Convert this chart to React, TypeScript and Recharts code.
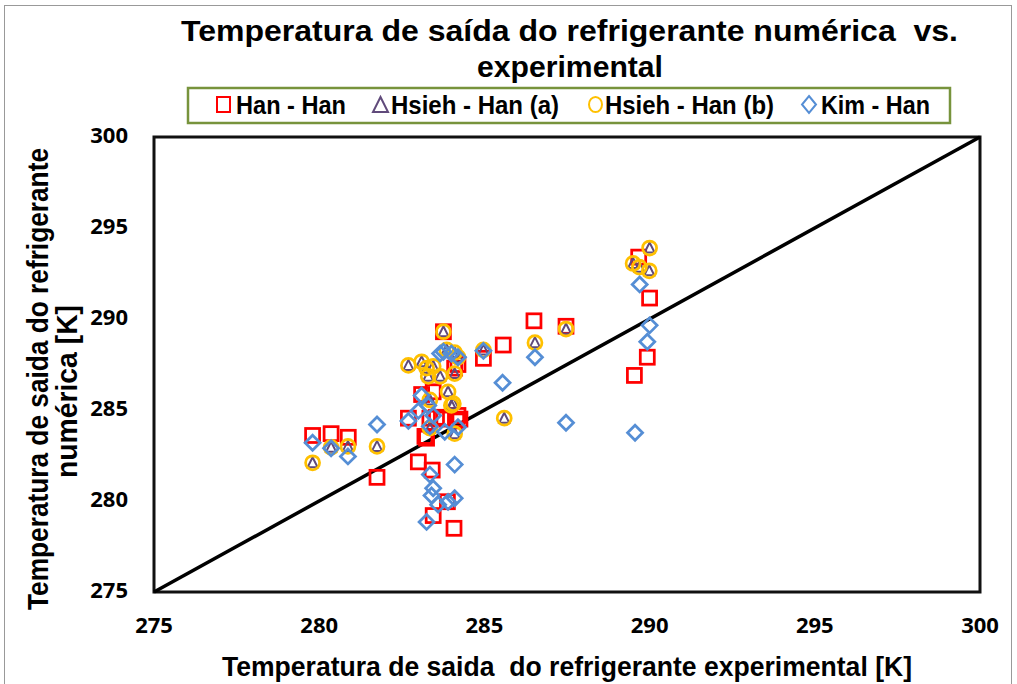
import React from "react";
import {
  ScatterChart,
  Scatter,
  XAxis,
  YAxis,
  ReferenceLine,
  ReferenceArea,
} from "recharts";

type Pt = { x: number; y: number };
const P = (x: number, y: number): Pt => ({ x, y });

const xTicks = [275, 280, 285, 290, 295, 300];
const yTicks = [275, 280, 285, 290, 295, 300];

const seriesNames = ["Han - Han", "Hsieh - Han (a)", "Hsieh - Han (b)", "Kim - Han"];

const hanHan: Pt[] = [
  P(279.8, 283.6), P(280.36, 283.7), P(280.88, 283.5), P(281.75, 281.3),
  P(282.7, 284.55), P(283.0, 282.15), P(283.2, 283.55), P(283.25, 283.45),
  P(283.1, 285.85), P(283.45, 286.0), P(283.42, 281.7), P(283.35, 284.55),
  P(283.55, 284.6), P(283.7, 284.5), P(283.45, 279.2), P(283.88, 279.96),
  P(284.08, 278.5), P(284.16, 284.4), P(284.2, 284.7), P(284.26, 284.5),
  P(283.76, 289.3), P(284.1, 287.3), P(284.2, 287.5), P(284.97, 287.84),
  P(285.57, 288.57), P(286.5, 289.9), P(287.47, 289.6), P(289.54, 286.9),
  P(289.67, 293.4), P(289.93, 287.9), P(290.0, 291.15),
];

const hsiehA: Pt[] = [
  P(279.8, 282.1), P(280.36, 282.95), P(280.87, 283.0), P(281.75, 283.0),
  P(282.7, 287.45), P(283.1, 287.65), P(283.25, 287.3), P(283.45, 287.4),
  P(283.3, 286.85), P(283.66, 286.85), P(284.1, 287.0), P(283.9, 286.0),
  P(284.06, 285.35), P(283.35, 285.55), P(283.76, 289.3), P(283.86, 288.3),
  P(284.1, 288.15), P(284.2, 287.9), P(284.97, 288.3), P(283.35, 284.0),
  P(284.1, 283.7), P(284.0, 285.25), P(285.6, 284.55), P(286.53, 288.7),
  P(287.47, 289.45), P(289.5, 293.05), P(289.69, 292.85), P(289.99, 292.65),
  P(290.0, 293.9),
];

const hsiehB: Pt[] = [
  P(279.8, 282.1), P(280.36, 282.95), P(280.87, 283.0), P(281.75, 283.0),
  P(282.7, 287.45), P(283.1, 287.65), P(283.25, 287.3), P(283.45, 287.4),
  P(283.3, 286.85), P(283.66, 286.85), P(284.1, 287.0), P(283.9, 286.0),
  P(284.06, 285.35), P(283.35, 285.55), P(283.76, 289.3), P(283.86, 288.3),
  P(284.1, 288.15), P(284.2, 287.9), P(284.97, 288.3), P(283.35, 284.0),
  P(284.1, 283.7), P(284.0, 285.25), P(285.6, 284.55), P(286.53, 288.7),
  P(287.47, 289.45), P(289.5, 293.05), P(289.69, 292.85), P(289.99, 292.65),
  P(290.0, 293.9),
];

const kimHan: Pt[] = [
  P(279.8, 283.2), P(280.36, 282.9), P(280.87, 282.45), P(281.75, 284.2),
  P(282.7, 284.4), P(283.0, 284.95), P(283.1, 285.8), P(283.3, 285.25),
  P(283.45, 284.7), P(283.35, 284.1), P(283.8, 283.8), P(284.2, 284.05),
  P(283.66, 288.1), P(283.76, 288.2), P(284.0, 288.1), P(284.2, 287.9),
  P(284.97, 288.25), P(284.1, 282.0), P(283.35, 281.45), P(283.45, 280.7),
  P(283.4, 280.3), P(283.6, 279.8), P(283.9, 279.95), P(284.1, 280.15),
  P(283.25, 278.85), P(285.55, 286.5), P(286.53, 287.9), P(287.47, 284.3),
  P(289.56, 283.75), P(289.7, 291.9), P(289.93, 288.75), P(290.0, 289.65),
];

const RED = "#FF0000";
const PURPLE = "#604A7B";
const GOLD = "#FFC000";
const BLUE = "#558ED5";
const ARIAL = "'Liberation Sans', Arial, sans-serif";
const TICKFONT = "'Open Sans', 'Noto Sans', sans-serif";

const SquareShape = (p: any) => (
  <rect x={p.cx - 7} y={p.cy - 7} width={14} height={14} fill="none" stroke={RED} strokeWidth={2.75} />
);
const TriangleShape = (p: any) => (
  <polygon
    points={`${p.cx},${p.cy - 5.5} ${p.cx + 5},${p.cy + 4.5} ${p.cx - 5},${p.cy + 4.5}`}
    fill="none"
    stroke={PURPLE}
    strokeWidth={2}
  />
);
const CircleShape = (p: any) => (
  <circle cx={p.cx} cy={p.cy} r={7} fill="none" stroke={GOLD} strokeWidth={2.75} />
);
const DiamondShape = (p: any) => (
  <polygon
    points={`${p.cx},${p.cy - 7.5} ${p.cx + 7.5},${p.cy} ${p.cx},${p.cy + 7.5} ${p.cx - 7.5},${p.cy}`}
    fill="none"
    stroke={BLUE}
    strokeWidth={2.75}
  />
);

const XTick = (p: any) => (
  <text
    x={p.x}
    y={p.y}
    dy={8}
    textAnchor="middle"
    dominantBaseline="middle"
    style={{ fontFamily: TICKFONT, fontWeight: 700, fontSize: 22, fill: "#000" }}
  >
    {p.payload.value}
  </text>
);
const YTick = (p: any) => (
  <text
    x={p.x}
    y={p.y}
    textAnchor="end"
    dominantBaseline="middle"
    style={{ fontFamily: TICKFONT, fontWeight: 700, fontSize: 22, fill: "#000" }}
  >
    {p.payload.value}
  </text>
);

export default function App() {
  return (
    <div style={{ position: "absolute", left: 0, top: 0, width: 1017, height: 684, background: "#fff", overflow: "hidden" }}>
      <div style={{ position: "absolute", left: 4, top: 5, width: 1006, height: 700, border: "1px solid #999" }} />
      <div style={{ position: "absolute", left: 0, top: 0 }}>
        <ScatterChart width={1017} height={684} margin={{ top: 137, right: 37, bottom: 52, left: 94 }}>
          <XAxis
            type="number"
            dataKey="x"
            domain={[275, 300]}
            ticks={xTicks}
            allowDataOverflow
            axisLine={false}
            tickLine={false}
            tickSize={0}
            tickMargin={27}
            height={40}
            tick={XTick}
          />
          <YAxis
            type="number"
            dataKey="y"
            domain={[275, 300]}
            ticks={yTicks}
            allowDataOverflow
            axisLine={false}
            tickLine={false}
            tickSize={0}
            tickMargin={26}
            width={60}
            tick={YTick}
          />
          <ReferenceArea x1={275} x2={300} y1={275} y2={300} fill="none" stroke="#111" strokeWidth={3} ifOverflow="visible" />
          <ReferenceLine segment={[{ x: 275, y: 275 }, { x: 300, y: 300 }]} stroke="#000" strokeWidth={3.5} />
          <Scatter name={seriesNames[0]} data={hanHan} shape={SquareShape} isAnimationActive={false} />
          <Scatter name={seriesNames[1]} data={hsiehA} shape={TriangleShape} isAnimationActive={false} />
          <Scatter name={seriesNames[2]} data={hsiehB} shape={CircleShape} isAnimationActive={false} />
          <Scatter name={seriesNames[3]} data={kimHan} shape={DiamondShape} isAnimationActive={false} />
        </ScatterChart>
      </div>
      <svg width={1017} height={684} style={{ position: "absolute", left: 0, top: 0, pointerEvents: "none" }}>
        <g fontFamily={ARIAL} fontWeight={700} fill="#000">
          <text x={181} y={41} fontSize={30} textLength={777} lengthAdjust="spacingAndGlyphs" style={{ whiteSpace: "pre" }}>
            {"Temperatura de saída do refrigerante numérica  vs."}
          </text>
          <text x={477} y={77} fontSize={30} textLength={186} lengthAdjust="spacingAndGlyphs">
            experimental
          </text>
          <text x={222} y={676} fontSize={28} textLength={690} lengthAdjust="spacingAndGlyphs" style={{ whiteSpace: "pre" }}>
            {"Temperatura de saida  do refrigerante experimental [K]"}
          </text>
          <text x={0} y={0} fontSize={29} textLength={462} lengthAdjust="spacingAndGlyphs" transform="translate(48,610) rotate(-90)">
            Temperatura de saida do refrigerante
          </text>
          <text x={0} y={0} fontSize={29} textLength={173} lengthAdjust="spacingAndGlyphs" transform="translate(77,478) rotate(-90)">
            numérica [K]
          </text>
        </g>
        <rect x={188} y={88} width={762} height={35} fill="#fff" stroke="#77933C" strokeWidth={2.5} />
        <rect x={217} y={97} width={13} height={15} fill="none" stroke={RED} strokeWidth={2} />
        <polygon points="380.5,97 388,112 373,112" fill="none" stroke={PURPLE} strokeWidth={2} />
        <ellipse cx={595.5} cy={104.5} rx={6.5} ry={7.5} fill="none" stroke={GOLD} strokeWidth={2} />
        <polygon points="809,96 816,104.5 809,113 802,104.5" fill="none" stroke={BLUE} strokeWidth={2} />
        <g fontFamily={ARIAL} fontWeight={700} fill="#000" fontSize={25}>
          <text x={236} y={114} textLength={110} lengthAdjust="spacingAndGlyphs">Han - Han</text>
          <text x={391} y={114} textLength={168} lengthAdjust="spacingAndGlyphs">Hsieh - Han (a)</text>
          <text x={605} y={114} textLength={169} lengthAdjust="spacingAndGlyphs">Hsieh - Han (b)</text>
          <text x={821} y={114} textLength={109} lengthAdjust="spacingAndGlyphs">Kim - Han</text>
        </g>
      </svg>
    </div>
  );
}
